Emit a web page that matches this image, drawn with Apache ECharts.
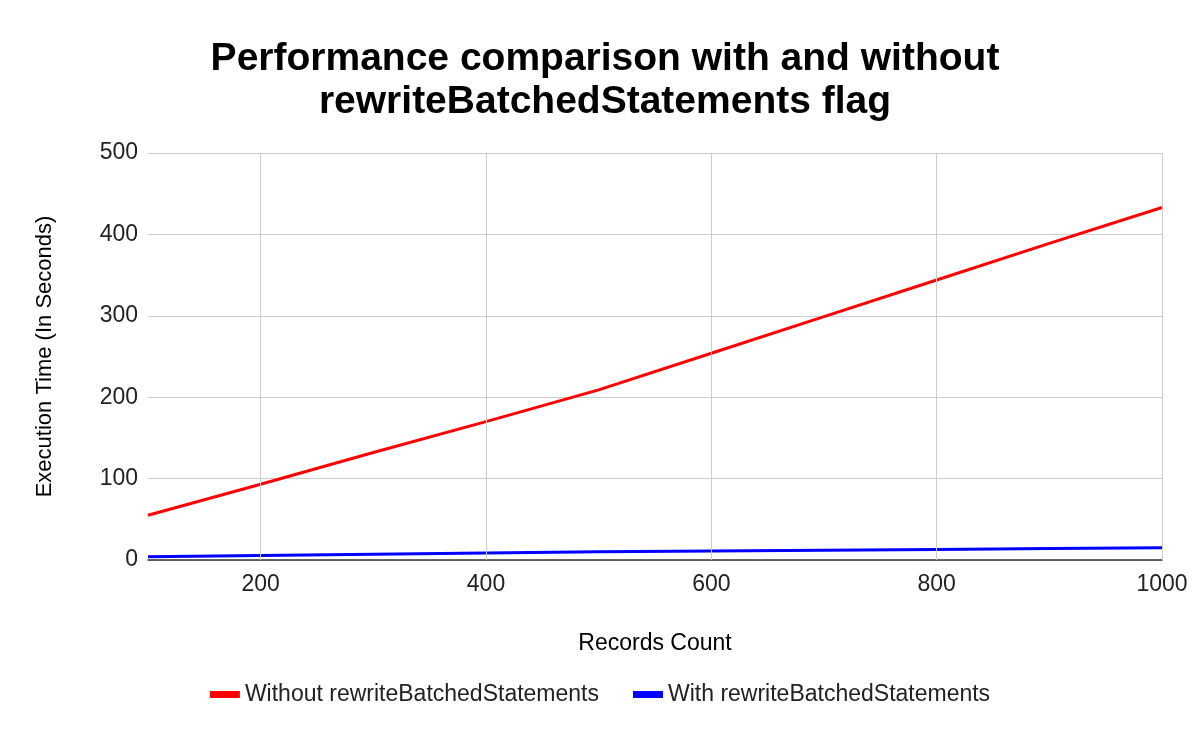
<!DOCTYPE html>
<html><head><meta charset="utf-8">
<script src="https://cdn.jsdelivr.net/npm/echarts@6/dist/echarts.min.js"></script>
<style>html,body{margin:0;padding:0;background:#fff}#c{width:1200px;height:742px}</style>
</head><body><div id="c"></div>
<script>
const records = [100, 200, 300, 400, 500, 600, 700, 800, 900, 1000];
const without = [55, 93, 132, 170, 209, 254, 299, 344, 389, 433];
const withFlag = [4, 5.5, 7, 8.5, 10, 11, 12, 13, 14, 15];
const gridX = [200, 400, 600, 800, 1000];
const chart = echarts.init(document.getElementById('c'));
const F = 'Liberation Sans';
chart.setOption({
  backgroundColor: '#fff',
  title: {
    text: 'Performance comparison with and without\nrewriteBatchedStatements flag',
    left: 600, top: 33, textAlign: 'center',
    textStyle: {fontFamily: F, fontSize: 39, fontWeight: 'bold', color: '#000', lineHeight: 43}
  },
  legend: {
    top: 678, left: 'center', itemWidth: 30, itemHeight: 7, itemGap: 34,
    icon: 'rect',
    textStyle: {fontFamily: F, fontSize: 23, color: '#222'}
  },
  grid: {left: 148, right: 38, top: 153, bottom: 182},
  xAxis: {
    type: 'value', min: 100, max: 1000, interval: 100,
    name: 'Records Count', nameLocation: 'middle', nameGap: 72,
    nameTextStyle: {fontFamily: F, fontSize: 23, color: '#000'},
    axisLine: {show: true, lineStyle: {color: '#333', width: 1.5}},
    axisTick: {show: false},
    splitLine: {show: false},
    axisLabel: {fontFamily: F, fontSize: 23, color: '#222', margin: 13,
      formatter: v => (v % 200 === 0 ? String(v) : '')}
  },
  yAxis: {
    type: 'value', min: 0, max: 500, interval: 100,
    name: 'Execution Time (In Seconds)', nameLocation: 'middle', nameGap: 92,
    nameTextStyle: {fontFamily: F, fontSize: 22, color: '#000'},
    axisLine: {show: false}, axisTick: {show: false},
    splitLine: {lineStyle: {color: '#ccc', width: 1}},
    axisLabel: {fontFamily: F, fontSize: 23, color: '#222', margin: 10}
  },
  series: [
    {name: 'Without rewriteBatchedStatements', type: 'line', showSymbol: false,
     data: records.map((r, i) => [r, without[i]]),
     color: '#ff0000', lineStyle: {width: 3},
     markLine: {silent: true, symbol: 'none', label: {show: false}, animation: false,
       lineStyle: {color: '#ccc', width: 1, type: 'solid'},
       data: gridX.map(x => ({xAxis: x}))}},
    {name: 'With rewriteBatchedStatements', type: 'line', showSymbol: false,
     data: records.map((r, i) => [r, withFlag[i]]),
     color: '#0000ff', lineStyle: {width: 3}}
  ],
  animation: false
});
</script></body></html>
